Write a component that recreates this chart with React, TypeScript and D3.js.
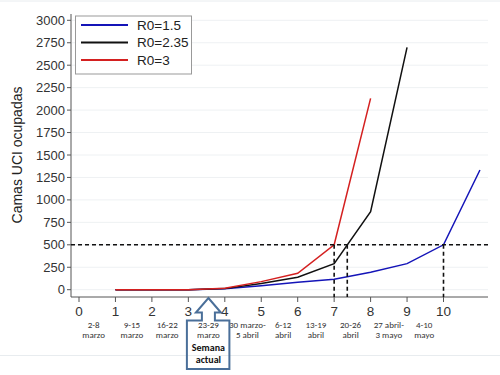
import React from "react";
import * as d3 from "d3";

const weeks = [1, 2, 3, 4, 5, 6, 7, 8, 9, 10, 11];
const seriesNames = ["R0=1.5", "R0=2.35", "R0=3"];
const seriesColors = ["#1414b8", "#111111", "#d42020"];
const blueVals = [0, 0, 0, 10, 45, 82, 116, 194, 290, 500, 1333];
const blackVals = [0, 0, 0, 12, 70, 138, 290, 869, 2699];
const redVals = [0, 0, 0, 15, 90, 183, 500, 2131];
const yTicks = [0, 250, 500, 750, 1000, 1250, 1500, 1750, 2000, 2250, 2500, 2750, 3000];
const xTicks = [0, 1, 2, 3, 4, 5, 6, 7, 8, 9, 10];
const weekLabels = [
  ["2-8", "marzo"],
  ["9-15", "marzo"],
  ["16-22", "marzo"],
  ["23-29", "marzo"],
  ["30 marzo-", "5 abril"],
  ["6-12", "abril"],
  ["13-19", "abril"],
  ["20-26", "abril"],
  ["27 abril-", "3 mayo"],
  ["4-10", "mayo"],
];
const weekLabelPos = [0.4, 1.45, 2.42, 3.55, 4.62, 5.6, 6.5, 7.45, 8.5, 9.47];
const threshold = 500;
const crossings = [7, 7.36, 10];

export default function App() {
  const x = d3.scaleLinear().domain([0, 10]).range([79, 443.5]);
  const y = d3.scaleLinear().domain([0, 3000]).range([289.7, 20.3]);
  const allSeries = [blueVals, blackVals, redVals];
  const line = d3
    .line<[number, number]>()
    .x((d) => x(d[0]))
    .y((d) => y(d[1]));
  const axisLeft = 71;
  const axisRight = 488;
  const axisY = 297;
  const arrowX = x(weekLabelPos[3]);

  return (
    <svg
      width={500}
      height={375}
      style={{ position: "absolute", left: 0, top: 0, fontFamily: "Liberation Sans, Arial, sans-serif" }}
    >
      <rect x={0} y={0} width={500} height={375} fill="#fff" />
      <line x1={0} x2={500} y1={1} y2={1} stroke="#e8ecef" />
      <line x1={0} x2={500} y1={355.5} y2={355.5} stroke="#e8ecef" />
      {yTicks.map((t) => (
        <g key={t}>
          <line x1={axisLeft + 1} x2={axisRight} y1={y(t)} y2={y(t)} stroke="#eef1f3" strokeWidth={1} />
          <line x1={axisLeft - 4} x2={axisLeft} y1={y(t)} y2={y(t)} stroke="#555" />
          <text x={axisLeft - 6} y={y(t)} dy="0.35em" textAnchor="end" fontSize={13} fill="#333">
            {t}
          </text>
        </g>
      ))}
      <line x1={axisLeft} x2={axisLeft} y1={14} y2={axisY} stroke="#555" />
      <line x1={axisLeft} x2={axisRight} y1={axisY} y2={axisY} stroke="#555" />
      {xTicks.map((t) => (
        <g key={t}>
          <line x1={x(t)} x2={x(t)} y1={axisY} y2={axisY + 5} stroke="#555" />
          <text x={x(t)} y={axisY + 19} textAnchor="middle" fontSize={13.5} fill="#333">
            {t}
          </text>
        </g>
      ))}
      {weekLabels.map((lab, i) => {
        const cx = x(weekLabelPos[i]);
        return (
          <text key={i} textAnchor="middle" fontSize={9} fill="#333" fontFamily="Carlito, Liberation Sans, sans-serif">
            <tspan x={cx} y={328}>{lab[0]}</tspan>
            <tspan x={cx} y={338}>{lab[1]}</tspan>
          </text>
        );
      })}
      <text
        transform={`translate(22,${155}) rotate(-90)`}
        textAnchor="middle"
        fontSize={14}
        fill="#222"
      >
        Camas UCI ocupadas
      </text>
      {allSeries.map((vals, si) => (
        <path
          key={si}
          d={line(vals.map((v, i) => [weeks[i], v] as [number, number])) || ""}
          fill="none"
          stroke={seriesColors[si]}
          strokeWidth={1.5}
        />
      ))}
      <line
        x1={axisLeft}
        x2={axisRight}
        y1={y(threshold)}
        y2={y(threshold)}
        stroke="#111"
        strokeWidth={1.6}
        strokeDasharray="4,3"
      />
      {crossings.map((c, i) => (
        <line
          key={i}
          x1={x(c)}
          x2={x(c)}
          y1={y(threshold)}
          y2={axisY}
          stroke="#111"
          strokeWidth={1.6}
          strokeDasharray="4,3"
        />
      ))}
      <g>
        <rect x={75.5} y={16} width={116} height={58} fill="#fff" stroke="#999" />
        {seriesNames.map((n, i) => (
          <g key={n}>
            <line x1={81} x2={128} y1={25 + i * 17.5} y2={25 + i * 17.5} stroke={seriesColors[i]} strokeWidth={2} />
            <text x={137} y={25 + i * 17.5 + 4.5} fontSize={13.5} fill="#222">
              {n}
            </text>
          </g>
        ))}
      </g>
      <path
        d={`M${arrowX},298 L${arrowX + 12.5},312.5 L${arrowX + 6.5},312.5 L${arrowX + 6.5},320.5 L${arrowX + 21},320.5 L${arrowX + 21},369 L${arrowX - 21.5},369 L${arrowX - 21.5},320.5 L${arrowX - 6.5},320.5 L${arrowX - 6.5},312.5 L${arrowX - 12.5},312.5 Z`}
        fill="none"
        stroke="#4a6f99"
        strokeWidth={2}
      />
      <text textAnchor="middle" fontSize={10} fontWeight="bold" fill="#111" fontFamily="Carlito, Liberation Sans, sans-serif">
        <tspan x={arrowX} y={351}>Semana</tspan>
        <tspan x={arrowX} y={363}>actual</tspan>
      </text>
    </svg>
  );
}
